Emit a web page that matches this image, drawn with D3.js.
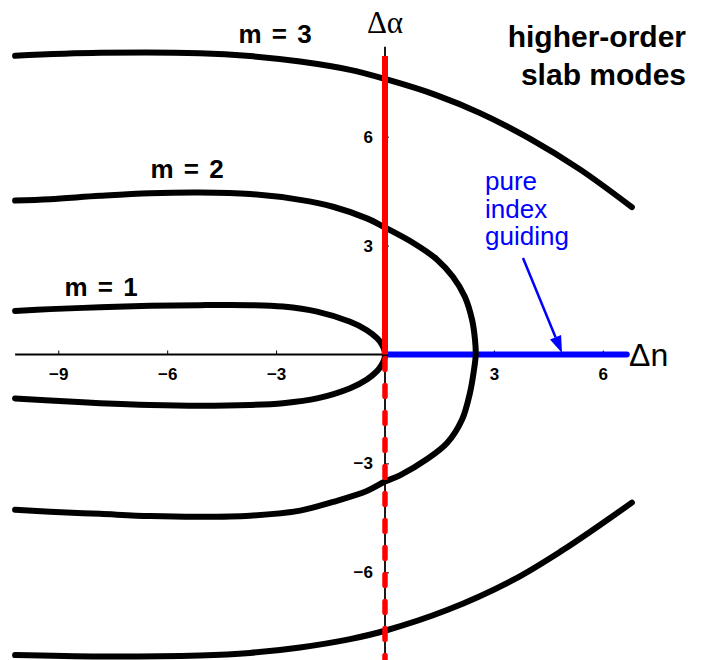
<!DOCTYPE html>
<html>
<head>
<meta charset="utf-8">
<script src="https://cdn.jsdelivr.net/npm/d3@7"></script>
<style>
  html, body { margin: 0; padding: 0; background: #fff; }
  svg { display: block; }
  .tick text { font-family: "Liberation Sans", Arial, sans-serif; font-weight: bold; font-size: 17px; fill: #000; }
</style>
</head>
<body>
<svg id="chart" width="704" height="660"></svg>
<script>
// Tick values on the two axes
const xTicks = [-9, -6, -3, 3, 6];
const yTicks = [-6, -3, 3, 6];

// Axis extents (Δn, Δα)
const xAxisExtent = [-10.19, 6.66];
const yAxisExtent = [8.48, -8.6];

// Gain-guided (solid) and anti-guided (dashed) parts of the Δα axis
const gainSegment = [8.22, 0];
const antiSegment = [0, -8.6];

// Pure index guiding: positive Δn, zero Δα
const indexSegment = [0, 6.66];

// Mode boundaries [Δn, Δα]
const mode1 = [
  [-10.19, 1.20], [-9.23, 1.25], [-7.85, 1.30], [-6.47, 1.34], [-5.10, 1.36],
  [-3.72, 1.36], [-2.81, 1.32], [-1.87, 1.18], [-0.96, 0.90], [-0.50, 0.67],
  [-0.22, 0.45], [-0.10, 0.30], [-0.027, 0.15], [0, 0],
  [-0.027, -0.15], [-0.10, -0.30], [-0.22, -0.46], [-0.50, -0.69], [-0.96, -0.93],
  [-1.87, -1.21], [-2.81, -1.34], [-3.72, -1.39], [-5.10, -1.41], [-6.47, -1.39],
  [-7.85, -1.34], [-9.23, -1.27], [-10.19, -1.21]
];

const mode2 = [
  [-10.19, 4.24], [-9.23, 4.28], [-7.85, 4.37], [-6.47, 4.44], [-5.10, 4.46],
  [-3.72, 4.42], [-2.34, 4.26], [-1.43, 4.07], [-0.50, 3.75], [0, 3.50],
  [0.77, 3.08], [1.43, 2.62], [1.87, 2.14], [2.20, 1.59], [2.40, 0.95],
  [2.48, 0.40], [2.50, 0],
  [2.45, -0.43], [2.34, -1.06], [2.12, -1.80], [1.71, -2.44], [1.16, -2.88],
  [0.41, -3.33], [0, -3.50], [-0.50, -3.76], [-1.43, -4.06], [-2.34, -4.30],
  [-3.72, -4.44], [-5.10, -4.47], [-6.47, -4.45], [-7.85, -4.39], [-9.23, -4.33],
  [-10.19, -4.28]
];

const mode3Upper = [
  [-10.19, 8.23], [-7.85, 8.31], [-5.10, 8.30], [-3.72, 8.22], [-2.34, 8.07],
  [-0.96, 7.84], [0, 7.59], [1.43, 7.14], [2.62, 6.65], [4.00, 5.94],
  [5.37, 5.10], [6.80, 4.06]
];

const mode3Lower = [
  [-10.19, -8.28], [-7.85, -8.32], [-5.10, -8.29], [-3.72, -8.22], [-2.34, -8.07],
  [-0.96, -7.84], [0, -7.61], [1.71, -7.04], [3.53, -6.21], [4.91, -5.38],
  [6.12, -4.56], [6.80, -4.08]
];

const modeLabels = ["m = 1", "m = 2", "m = 3"];
const titleLines = ["higher-order", "slab modes"];
const noteLines = ["pure", "index", "guiding"];

const svg = d3.select("#chart");

const x = d3.scaleLinear().domain([-9, 6]).range([58.3, 602.8]);
const y = d3.scaleLinear().domain([-6, 6]).range([572.3, 136.7]);

// Axis lines
svg.append("line")
  .attr("x1", x(xAxisExtent[0])).attr("x2", x(xAxisExtent[1]))
  .attr("y1", y(0)).attr("y2", y(0))
  .attr("stroke", "#000").attr("stroke-width", 1.8);

svg.append("line")
  .attr("x1", x(0)).attr("x2", x(0))
  .attr("y1", y(yAxisExtent[0])).attr("y2", y(yAxisExtent[1]))
  .attr("stroke", "#000").attr("stroke-width", 1.8);

// Tick marks and labels
const xAxis = d3.axisBottom(x).tickValues(xTicks).tickSize(-4).tickPadding(13);
const gx = svg.append("g").attr("transform", `translate(0,${y(0)})`).call(xAxis);
gx.select(".domain").remove();
gx.selectAll(".tick line").attr("stroke", "#000").attr("stroke-width", 1);

const yAxis = d3.axisLeft(y).tickValues(yTicks).tickSize(-4).tickPadding(12);
const gy = svg.append("g").attr("transform", `translate(${x(0)},0)`).call(yAxis);
gy.select(".domain").remove();
gy.selectAll(".tick line").attr("stroke", "#000").attr("stroke-width", 1);

// Index-guiding half-axis
svg.append("line")
  .attr("x1", x(indexSegment[0])).attr("x2", x(indexSegment[1]))
  .attr("y1", y(0)).attr("y2", y(0))
  .attr("stroke", "#0000ff").attr("stroke-width", 6)
  .attr("stroke-linecap", "round");

// Mode curves
const line = d3.line()
  .x(d => x(d[0]))
  .y(d => y(d[1]))
  .curve(d3.curveCatmullRom.alpha(0.5));

[mode1, mode2, mode3Upper, mode3Lower].forEach(pts => {
  svg.append("path")
    .attr("d", line(pts))
    .attr("fill", "none")
    .attr("stroke", "#000")
    .attr("stroke-width", 6)
    .attr("stroke-linecap", "round")
    .attr("stroke-linejoin", "round");
});

// Gain axis: solid above, dashed below
svg.append("line")
  .attr("x1", x(0)).attr("x2", x(0))
  .attr("y1", y(gainSegment[0])).attr("y2", y(gainSegment[1]))
  .attr("stroke", "#ff0000").attr("stroke-width", 6);

svg.append("line")
  .attr("x1", x(0)).attr("x2", x(0))
  .attr("y1", y(antiSegment[0]) + 4).attr("y2", y(antiSegment[1]))
  .attr("stroke", "#ff0000").attr("stroke-width", 5.5)
  .attr("stroke-dasharray", "11,16")
  .attr("stroke-linecap", "round");

// Axis titles
svg.append("text")
  .attr("x", x(0)).attr("y", 33)
  .attr("text-anchor", "middle")
  .attr("font-family", "'Liberation Serif', 'Times New Roman', serif")
  .attr("font-size", 31)
  .text("Δα");

svg.append("text")
  .attr("x", 629).attr("y", 366)
  .attr("font-family", "'Liberation Sans', Arial, sans-serif")
  .attr("font-size", 32)
  .text("Δn");

// Mode labels
const labelPos = [[101, 296], [187, 178], [275, 43]];
modeLabels.forEach((t, i) => {
  svg.append("text")
    .attr("x", labelPos[i][0]).attr("y", labelPos[i][1])
    .attr("text-anchor", "middle")
    .attr("font-family", "'Liberation Sans', Arial, sans-serif")
    .attr("font-weight", "bold")
    .attr("font-size", 26)
    .attr("word-spacing", 3)
    .text(t);
});

// Title block
titleLines.forEach((t, i) => {
  svg.append("text")
    .attr("x", 686).attr("y", 47 + i * 38)
    .attr("text-anchor", "end")
    .attr("font-family", "'Liberation Sans', Arial, sans-serif")
    .attr("font-weight", "bold")
    .attr("font-size", 30)
    .text(t);
});

// Note with arrow
noteLines.forEach((t, i) => {
  svg.append("text")
    .attr("x", 485).attr("y", 190 + i * 27.5)
    .attr("font-family", "'Liberation Sans', Arial, sans-serif")
    .attr("font-size", 26)
    .attr("fill", "#0000ff")
    .text(t);
});

const tail = [523, 258], tip = [562, 353];
const ang = Math.atan2(tip[1] - tail[1], tip[0] - tail[0]);
const headLen = 17, headHalf = 6;
const base = [tip[0] - headLen * Math.cos(ang), tip[1] - headLen * Math.sin(ang)];
svg.append("line")
  .attr("x1", tail[0]).attr("y1", tail[1])
  .attr("x2", base[0]).attr("y2", base[1])
  .attr("stroke", "#0000ff").attr("stroke-width", 2.5);
svg.append("path")
  .attr("d", `M${tip[0]},${tip[1]}L${base[0] + headHalf * Math.sin(ang)},${base[1] - headHalf * Math.cos(ang)}L${base[0] - headHalf * Math.sin(ang)},${base[1] + headHalf * Math.cos(ang)}Z`)
  .attr("fill", "#0000ff");
</script>
</body>
</html>
